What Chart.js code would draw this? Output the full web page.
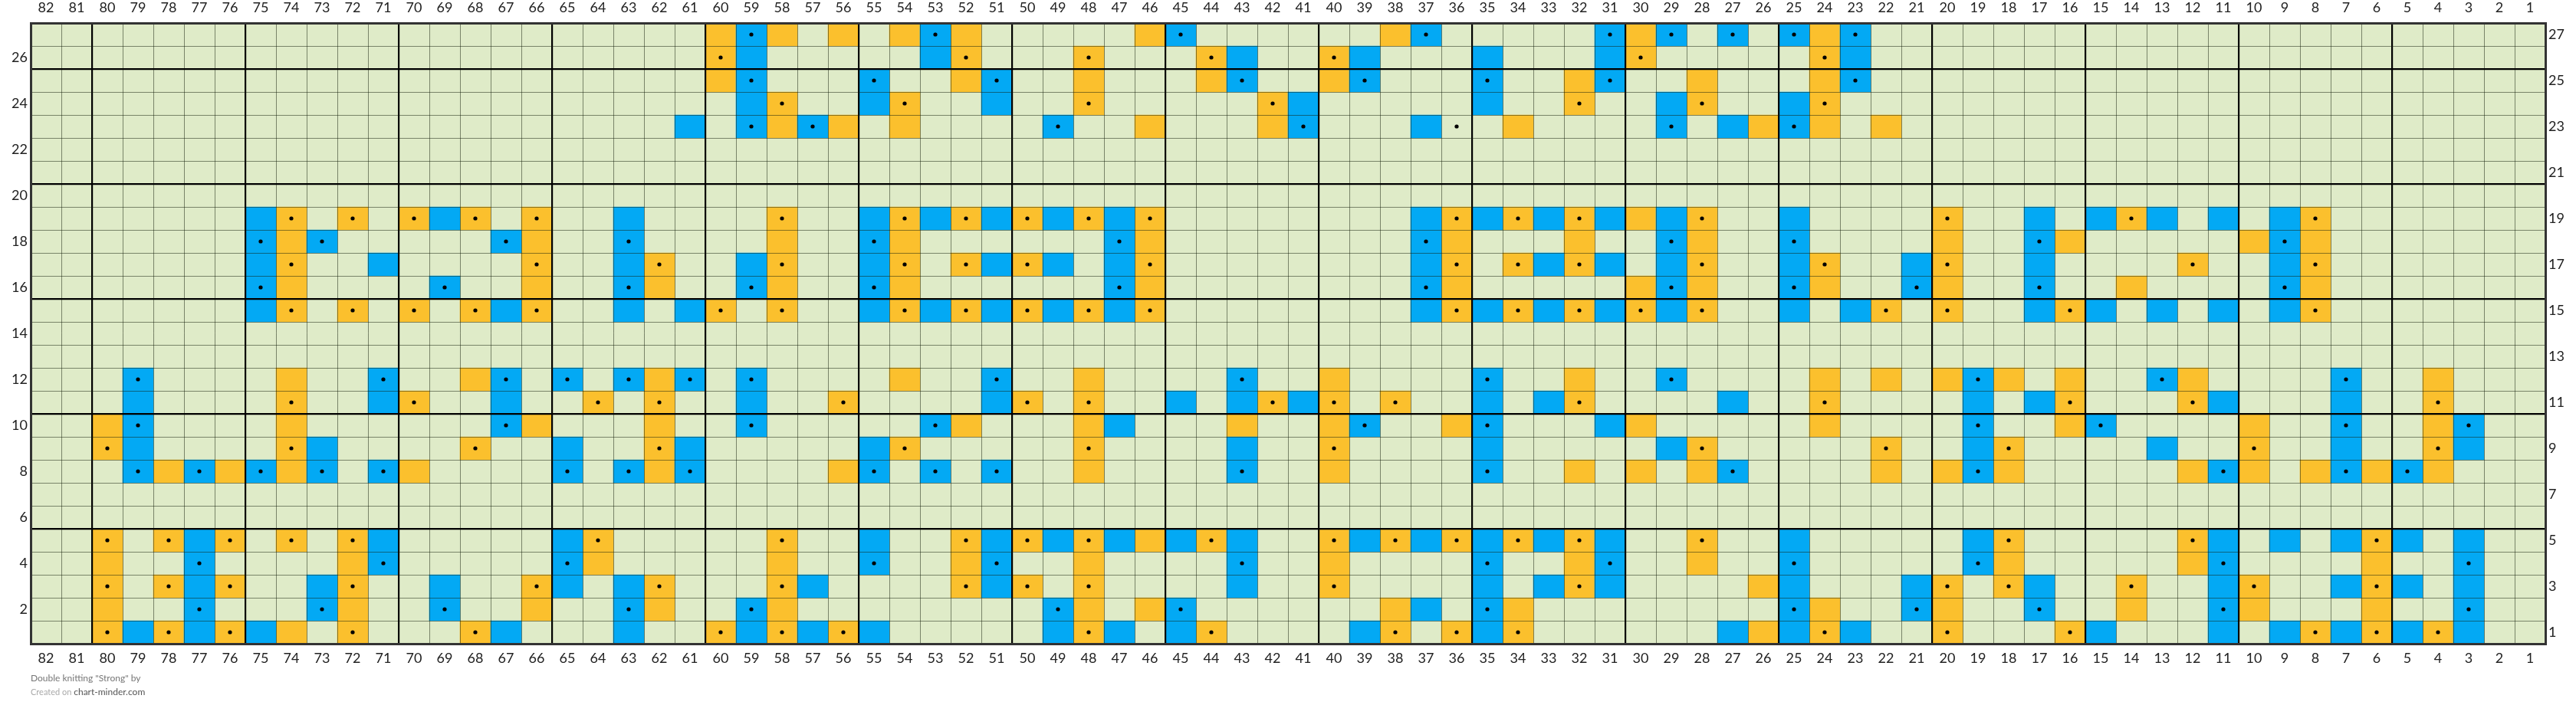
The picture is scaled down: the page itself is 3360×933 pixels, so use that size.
<!DOCTYPE html>
<html>
<head>
<meta charset="utf-8">
<script src="https://cdn.jsdelivr.net/npm/chart.js@4.4.1/dist/chart.umd.min.js"></script>
<style>
html,body{margin:0;padding:0;background:#fff;}
#wrap{position:relative;width:3360px;height:933px;overflow:hidden;}
#c{display:block;}
.credit{position:absolute;left:40px;font-family:Lato,sans-serif;white-space:nowrap;}
#credit1{top:877px;font-size:12px;color:#777;}
#credit2{top:895px;font-size:12px;color:#555;}
#credit2 span{color:#aaa;font-size:11px;}
</style>
</head>
<body>
<div id="wrap">
<canvas id="c" width="3360" height="933"></canvas>
<div class="credit" id="credit1">Double knitting "Strong" by</div>
<div class="credit" id="credit2"><span>Created on </span>chart-minder.com</div>
</div>
<script>
// Column labels (stitch numbers, right-to-left knitting order) and row labels
const colLabels = Array.from({length: 82}, (_, i) => String(82 - i));
const evenRowTicks = [2,4,6,8,10,12,14,16,18,20,22,24,26];
const oddRowTicks = [1,3,5,7,9,11,13,15,17,19,21,23,25,27];

// index 0 = row 1 ... index 26 = row 27 ; values are column numbers
const blueCols = [
  [79,77,75,67,63,59,57,55,49,47,45,39,35,27,25,23,15,11,9,7,5,3],
  [77,73,69,63,59,49,45,37,35,25,21,17,11,3],
  [77,73,69,65,63,57,51,43,35,33,31,25,21,17,11,7,5,3],
  [77,71,65,55,51,43,35,31,25,19,11,3],
  [77,71,65,55,51,49,47,45,43,39,37,35,33,31,25,19,11,9,7,5,3],
  [],
  [],
  [79,77,75,73,71,65,63,61,55,53,51,43,35,27,19,11,7,5],
  [79,73,65,61,55,43,35,29,19,13,7,3],
  [79,67,59,53,47,39,35,31,19,15,7,3],
  [79,71,67,59,51,45,43,41,35,33,27,19,17,11,7],
  [79,71,67,65,63,61,59,51,43,35,29,19,13,7],
  [],
  [],
  [75,67,63,61,55,53,51,49,47,37,35,33,31,29,25,23,17,15,13,11,9],
  [75,69,63,59,55,47,37,29,25,21,17,9],
  [75,71,63,59,55,51,49,47,37,33,31,29,25,21,17,9],
  [75,73,67,63,55,47,37,29,25,17,9],
  [75,69,63,55,53,51,49,47,37,35,33,31,29,25,17,15,13,11,9],
  [],
  [],
  [],
  [61,59,57,49,41,37,29,27,25],
  [59,55,51,41,35,29,25],
  [59,55,51,43,39,35,31,23],
  [59,53,43,39,35,31,23],
  [59,53,45,37,31,29,27,25,23]
];

const orangeCols = [
  [80,78,76,74,72,68,60,58,56,48,44,38,36,34,26,24,20,16,8,6,4],
  [80,72,66,62,58,48,46,38,34,24,20,14,10,6],
  [80,78,76,72,66,62,58,52,50,48,40,32,26,20,18,14,10,6],
  [80,72,64,58,52,48,40,32,28,18,12,6],
  [80,78,76,74,72,64,58,52,50,48,46,44,40,38,36,34,32,28,18,12,6],
  [],
  [],
  [78,76,74,70,62,56,48,40,32,30,28,22,20,18,12,10,8,6,4],
  [80,74,68,62,54,48,40,28,22,18,10,4],
  [80,74,66,62,52,48,43,40,36,30,24,16,10,4],
  [74,70,64,62,56,50,48,42,40,38,32,24,16,12,4],
  [74,68,62,54,48,40,32,24,22,20,18,16,12,4],
  [],
  [],
  [74,72,70,68,66,60,58,54,52,50,48,46,36,34,32,30,28,22,20,16,8],
  [74,66,62,58,54,46,36,30,28,24,20,14,8],
  [74,66,62,58,54,52,50,46,36,34,32,28,24,20,12,8],
  [74,66,58,54,46,36,32,28,20,16,10,8],
  [74,72,70,68,66,58,54,52,50,48,46,36,34,32,30,28,20,14,8],
  [],
  [],
  [],
  [58,56,54,46,42,34,26,24,22],
  [58,54,48,42,32,28,24],
  [60,52,48,44,40,32,28,24],
  [60,52,48,44,40,30,24],
  [60,58,56,54,52,46,38,30,24]
];

const dotCols = [
  [80,78,76,72,68,60,58,56,48,44,38,36,34,24,20,16,8,6,4],
  [77,73,69,63,59,49,45,35,25,21,17,11,3],
  [80,78,76,72,66,62,58,52,50,48,40,32,20,18,14,10,6],
  [77,71,65,55,51,43,35,31,25,19,11,3],
  [80,78,76,74,72,64,58,52,50,48,44,40,38,36,34,32,28,18,12,6],
  [],
  [],
  [79,77,75,73,71,65,63,61,55,53,51,43,35,27,19,11,7,5],
  [80,74,68,62,54,48,40,28,22,18,10,4],
  [79,67,59,53,39,35,19,15,7,3],
  [74,70,64,62,56,50,48,42,40,38,32,24,16,12,4],
  [79,71,67,65,63,61,59,51,43,35,29,19,13,7],
  [],
  [],
  [74,72,70,68,66,60,58,54,52,50,48,46,36,34,32,30,28,22,20,16,8],
  [75,69,63,59,55,47,37,29,25,21,17,9],
  [74,66,62,58,54,52,50,46,36,34,32,28,24,20,12,8],
  [75,73,67,63,55,47,37,29,25,17,9],
  [74,72,70,68,66,58,54,52,50,48,46,36,34,32,28,20,14,8],
  [],
  [],
  [],
  [59,57,49,41,36,29,25],
  [58,54,48,42,32,28,24],
  [59,55,51,43,39,35,31,23],
  [60,52,48,44,40,30,24],
  [59,53,45,37,31,29,27,25,23]
];

const BLUE = '#03A9F4';
const ORANGE = '#FBC02D';
const CELL_BG = '#DFEBC8';

function toCells(rowsArr) {
  const out = [];
  rowsArr.forEach((cols, i) => {
    const row = i + 1;
    cols.forEach(c => out.push({x: String(c), y: [row - 0.5, row + 0.5]}));
  });
  return out;
}
function toDots(rowsArr) {
  const out = [];
  rowsArr.forEach((cols, i) => {
    const row = i + 1;
    cols.forEach(c => out.push({x: String(c), y: row}));
  });
  return out;
}

const bgPlugin = {
  id: 'cellBackground',
  beforeDatasetsDraw(chart) {
    const {ctx, chartArea: a} = chart;
    ctx.save();
    ctx.fillStyle = CELL_BG;
    ctx.fillRect(a.left, a.top, a.right - a.left, a.bottom - a.top);
    ctx.restore();
  }
};

const FONT = {family: 'Lato, "Open Sans", sans-serif', size: 18};
const THIN = 'rgba(20,30,10,0.5)';
const THICK = '#000';

new Chart(document.getElementById('c'), {
  type: 'bar',
  data: {
    labels: colLabels,
    datasets: [
      {
        type: 'line',
        label: 'dots',
        data: toDots(dotCols),
        showLine: false,
        pointRadius: 2.6,
        pointHoverRadius: 2.6,
        pointBorderWidth: 0,
        pointBackgroundColor: '#000',
        borderColor: '#000',
        xAxisID: 'x',
        yAxisID: 'y',
        order: 0
      },
      {
        label: 'blue',
        data: toCells(blueCols),
        backgroundColor: BLUE,
        borderWidth: 0,
        xAxisID: 'x',
        yAxisID: 'y',
        order: 1
      },
      {
        label: 'orange',
        data: toCells(orangeCols),
        backgroundColor: ORANGE,
        borderWidth: 0,
        xAxisID: 'x',
        yAxisID: 'y',
        order: 1
      }
    ]
  },
  options: {
    responsive: false,
    devicePixelRatio: 1,
    animation: false,
    events: [],
    grouped: false,
    barPercentage: 1,
    categoryPercentage: 1,
    layout: {padding: 0},
    plugins: {
      legend: {display: false},
      tooltip: {enabled: false},
      title: {display: false}
    },
    scales: {
      x: {
        type: 'category',
        position: 'bottom',
        offset: true,
        afterFit(s) { s.height = 93; },
        grid: {
          offset: true,
          drawTicks: false,
          tickLength: 0,
          z: 1,
          lineWidth: (ctx) => {
            const i = ctx.index;
            if (i === undefined || i === 0) return 3;
            return (i % 5 === 2) ? 2.2 : 1;
          },
          color: (ctx) => {
            const i = ctx.index;
            if (i === undefined || i === 0) return THICK;
            return (i % 5 === 2) ? THICK : THIN;
          }
        },
        border: {display: true, width: 3, color: '#333', z: 2},
        ticks: {font: FONT, color: '#222', padding: 8, autoSkip: false, maxRotation: 0, minRotation: 0, z: 1}
      },
      x2: {
        type: 'category',
        axis: 'x',
        position: 'top',
        offset: true,
        labels: colLabels,
        afterFit(s) { s.height = 30; },
        grid: {display: false, drawTicks: false, tickLength: 0, offset: true},
        border: {display: true, width: 3, color: '#333', z: 2},
        ticks: {font: FONT, color: '#222', padding: 9, autoSkip: false, maxRotation: 0, minRotation: 0, z: 1}
      },
      y: {
        type: 'linear',
        position: 'left',
        min: 0.5,
        max: 27.5,
        afterBuildTicks(s) {
          const t = [];
          for (let k = 0; k <= 27; k++) t.push({value: 0.5 + k});
          s.ticks = t;
        },
        afterFit(s) { s.width = 0; },
        grid: {
          drawTicks: false,
          tickLength: 0,
          z: 1,
          lineWidth: (ctx) => {
            const v = ctx.tick ? ctx.tick.value : 0.5;
            return ((v - 0.5) % 5 === 0) ? 2.2 : 1;
          },
          color: (ctx) => {
            const v = ctx.tick ? ctx.tick.value : 0.5;
            return ((v - 0.5) % 5 === 0) ? THICK : THIN;
          }
        },
        border: {display: false},
        ticks: {display: false}
      },
      yL: {
        type: 'linear',
        axis: 'y',
        position: 'left',
        min: 0.5,
        max: 27.5,
        afterBuildTicks(s) { s.ticks = evenRowTicks.map(v => ({value: v})); },
        afterFit(s) { s.width = 40; },
        grid: {display: false, drawTicks: false, tickLength: 0},
        border: {display: true, width: 3, color: '#333', z: 2},
        ticks: {font: FONT, color: '#222', padding: 4, autoSkip: false, z: 1}
      },
      yR: {
        type: 'linear',
        axis: 'y',
        position: 'right',
        min: 0.5,
        max: 27.5,
        afterBuildTicks(s) { s.ticks = oddRowTicks.map(v => ({value: v})); },
        afterFit(s) { s.width = 40; },
        grid: {display: false, drawTicks: false, tickLength: 0},
        border: {display: true, width: 3, color: '#333', z: 2},
        ticks: {font: FONT, color: '#222', padding: 4, autoSkip: false, z: 1}
      }
    }
  },
  plugins: [bgPlugin]
});
</script>
</body>
</html>
